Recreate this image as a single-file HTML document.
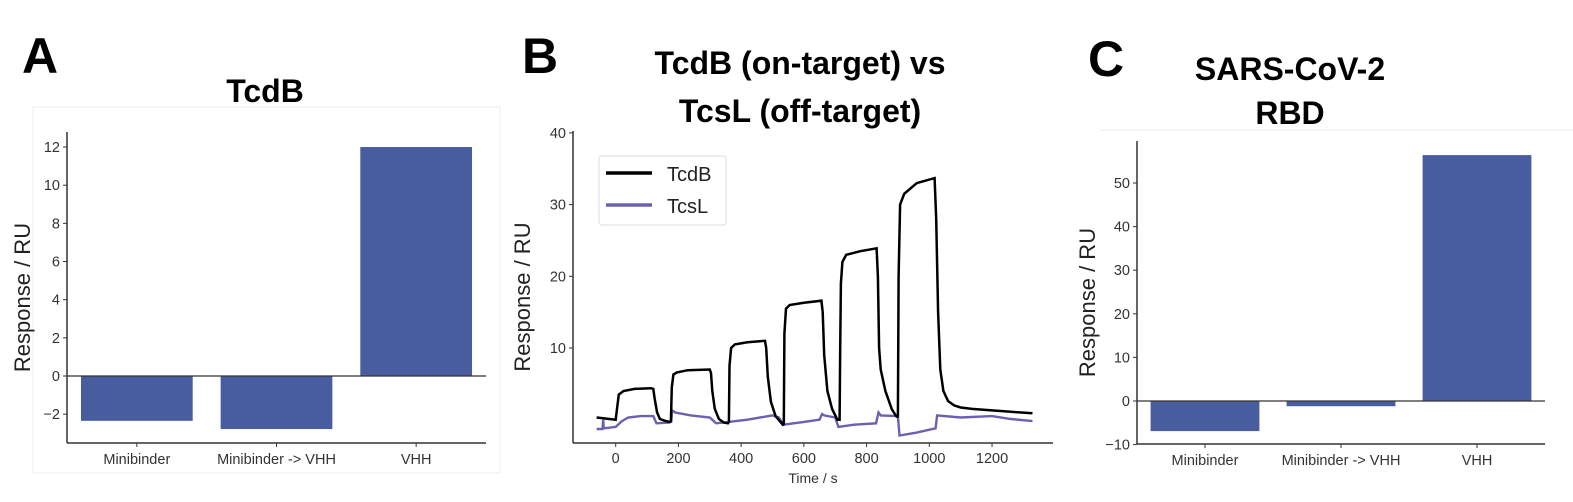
<!DOCTYPE html>
<html><head><meta charset="utf-8"><style>
html,body{margin:0;padding:0;background:#fff;}
svg{display:block;font-family:"Liberation Sans","DejaVu Sans",sans-serif;}
</style></head><body>
<svg id="fig" width="1573" height="502" viewBox="0 0 1573 502">
<rect x="33" y="107" width="467" height="366" fill="none" stroke="#eee"/>
<line x1="1100" y1="130" x2="1573" y2="130" stroke="#eee"/>
<text x="22" y="73" font-size="50" font-weight="bold">A</text>
<text x="522" y="73" font-size="50" font-weight="bold">B</text>
<text x="1088" y="76" font-size="50" font-weight="bold">C</text>
<text x="265" y="102" font-size="32" font-weight="bold" text-anchor="middle">TcdB</text>
<text x="800" y="74" font-size="32" font-weight="bold" text-anchor="middle">TcdB (on-target) vs</text>
<text x="800" y="122" font-size="32" font-weight="bold" text-anchor="middle">TcsL (off-target)</text>
<text x="1290" y="80" font-size="32" font-weight="bold" text-anchor="middle">SARS-CoV-2</text>
<text x="1290" y="124" font-size="32" font-weight="bold" text-anchor="middle">RBD</text>
<g id="ga"></g><g id="gb"></g><g id="gc"></g>
</svg>
<script>
const barCategories = ["Minibinder", "Minibinder -> VHH", "VHH"];
const tcdbBarValues = [-2.35, -2.78, 12.0];
const rbdBarValues = [-6.9, -1.2, 56.4];
const tcdbBarTicks = [-2, 0, 2, 4, 6, 8, 10, 12];
const rbdBarTicks = [-10, 0, 10, 20, 30, 40, 50];
const timeTicks = [0, 200, 400, 600, 800, 1000, 1200];
const respTicks = [10, 20, 30, 40];
const tcdbTime = [-61,-20,0,4,10,25,60,112,120,124,132,141,160,172,176,179,184,195,230,300,304,308,316,329,345,358,361,363,368,380,420,476,480,485,495,510,533,536,538,543,555,600,656,660,665,675,690,707,714,716,718,723,735,780,832,836,840,845,860,880,894,898,900,902,907,920,960,1017,1022,1028,1035,1045,1060,1079,1100,1136,1200,1260,1329];
const tcdbResp = [0.3,0.1,0,1.5,3.5,4.0,4.3,4.4,4.3,3.0,1.0,0.1,-0.2,-0.3,-0.2,4.5,6.3,6.6,6.9,7.0,6.5,4.0,1.5,0.1,-0.4,-0.5,-0.3,7.5,10.0,10.5,10.8,11.0,10.0,6.0,2.5,0.5,-0.7,-0.6,12.0,15.5,16.0,16.3,16.6,15.0,9.0,4.0,1.5,0.0,0.0,10.0,19.0,22.0,23.0,23.5,23.9,20.0,10.0,7.0,4.0,1.5,0.5,0.4,0.5,20.0,30.0,31.5,33.0,33.7,28.0,15.0,7.0,4.0,2.6,2.0,1.7,1.5,1.3,1.1,0.9];
const tcslTime = [-61,-42,-40,-38,0,20,40,80,120,130,170,177,180,190,240,300,320,360,420,500,520,535,600,650,658,665,700,710,760,830,838,845,900,905,960,1020,1025,1100,1200,1260,1329];
const tcslResp = [-1.3,-1.3,0.0,-1.2,-1.0,-0.2,0.3,0.5,0.5,-0.5,-0.4,-0.3,1.3,1.0,0.6,0.3,-0.5,-0.3,0.0,0.6,0.3,-0.7,-0.3,0.0,0.8,0.6,0.3,-1.0,-0.7,-0.5,1.0,0.6,0.5,-2.2,-1.8,-1.2,0.6,0.3,0.5,0.1,-0.2];

const NS="http://www.w3.org/2000/svg";
function mk(parent,tag,attrs,name,text){const e=document.createElementNS(NS,tag);for(const k in attrs)e.setAttribute(k,attrs[k]);


if(text!==undefined)e.textContent=text;parent.appendChild(e);return e;}

function barChart(g,cfg,values,ticks,prefix){
  const y=v=>cfg.y0-(v-0)*cfg.k;
  mk(g,'line',{x1:cfg.left,y1:cfg.top,x2:cfg.left,y2:cfg.bottom,stroke:'#333','stroke-width':1.5},prefix+'-y-axis');
  mk(g,'line',{x1:cfg.left,y1:cfg.bottom,x2:cfg.right,y2:cfg.bottom,stroke:'#333','stroke-width':1.5},prefix+'-x-axis');
  ticks.forEach(t=>{const yy=y(t);
    mk(g,'line',{x1:cfg.left-4,y1:yy,x2:cfg.left,y2:yy,stroke:'#333'},prefix+'-y-tick');
    mk(g,'text',{x:cfg.left-7,y:yy+5,'font-size':14.5,'text-anchor':'end',fill:'#333'},prefix+'-y-tick-label',String(t).replace('-','\u2212'));});
  const slot=(cfg.right-cfg.left)/barCategories.length, bw=slot*0.8;
  values.forEach((v,i)=>{const cx=cfg.left+slot*(i+0.5);
    mk(g,'rect',{x:cx-bw/2,y:Math.min(y(0),y(v)),width:bw,height:Math.abs(y(v)-y(0)),fill:'#485da0'},prefix+'-bar-'+i);
    mk(g,'line',{x1:cx,y1:cfg.bottom,x2:cx,y2:cfg.bottom+4,stroke:'#333'},prefix+'-x-tick');
    mk(g,'text',{x:cx,y:cfg.bottom+21,'font-size':14.5,'text-anchor':'middle',fill:'#333'},prefix+'-x-tick-label',barCategories[i]);});
  mk(g,'line',{x1:cfg.left,y1:y(0),x2:cfg.right,y2:y(0),stroke:'#333','stroke-width':1.2},prefix+'-zero-line');
  mk(g,'text',{x:0,y:0,'font-size':22,'text-anchor':'middle',fill:'#222',transform:`translate(${cfg.labelX},${(cfg.top+cfg.bottom)/2+10}) rotate(-90)`},prefix+'-y-axis-title','Response / RU');
}
barChart(document.getElementById('ga'),{left:67,right:486,top:132,bottom:443,y0:376,k:19.08,labelX:30},tcdbBarValues,tcdbBarTicks,'tcdb');
barChart(document.getElementById('gc'),{left:1137,right:1545,top:141,bottom:444,y0:401,k:4.36,labelX:1095},rbdBarValues,rbdBarTicks,'rbd');

(function(){
  const g=document.getElementById('gb');
  const L=573,R=1053,T=131,B=443;
  const x=t=>615.7+t*0.3136, y=v=>419.7-v*7.17;
  mk(g,'line',{x1:L,y1:T,x2:L,y2:B,stroke:'#333','stroke-width':1.5},'b-y-axis');
  mk(g,'line',{x1:L,y1:B,x2:R,y2:B,stroke:'#333','stroke-width':1.5},'b-x-axis');
  respTicks.forEach(t=>{mk(g,'line',{x1:L-4,y1:y(t),x2:L,y2:y(t),stroke:'#333'},'b-y-tick');
    mk(g,'text',{x:L-7,y:y(t)+5,'font-size':14.5,'text-anchor':'end',fill:'#333'},'b-y-tick-label',String(t));});
  timeTicks.forEach(t=>{mk(g,'line',{x1:x(t),y1:B,x2:x(t),y2:B+4,stroke:'#333'},'b-x-tick');
    mk(g,'text',{x:x(t),y:B+20,'font-size':14.5,'text-anchor':'middle',fill:'#333'},'b-x-tick-label',String(t));});
  mk(g,'text',{x:813,y:483,'font-size':14,'text-anchor':'middle',fill:'#333'},'b-x-axis-title','Time / s');
  mk(g,'text',{x:0,y:0,'font-size':22,'text-anchor':'middle',fill:'#222',transform:`translate(530,${(T+B)/2+10}) rotate(-90)`},'b-y-axis-title','Response / RU');
  const pts=(ts,vs)=>ts.map((t,i)=>x(t).toFixed(1)+','+y(vs[i]).toFixed(1)).join(' ');
  mk(g,'polyline',{points:pts(tcslTime,tcslResp),fill:'none',stroke:'#6a62b0','stroke-width':2.4},'tcsl-line');
  mk(g,'polyline',{points:pts(tcdbTime,tcdbResp),fill:'none',stroke:'#000','stroke-width':2.5},'tcdb-line');
  mk(g,'rect',{x:599,y:156,width:127,height:69,rx:3,fill:'#fff',stroke:'#ddd'},'legend-box');
  mk(g,'line',{x1:606,y1:173,x2:652,y2:173,stroke:'#000','stroke-width':3.5},'legend-tcdb-swatch');
  mk(g,'text',{x:667,y:181,'font-size':20,fill:'#222'},'legend-tcdb-label','TcdB');
  mk(g,'line',{x1:606,y1:205,x2:652,y2:205,stroke:'#6a62b0','stroke-width':3.5},'legend-tcsl-swatch');
  mk(g,'text',{x:667,y:213,'font-size':20,fill:'#222'},'legend-tcsl-label','TcsL');
})();
</script>
</body></html>
